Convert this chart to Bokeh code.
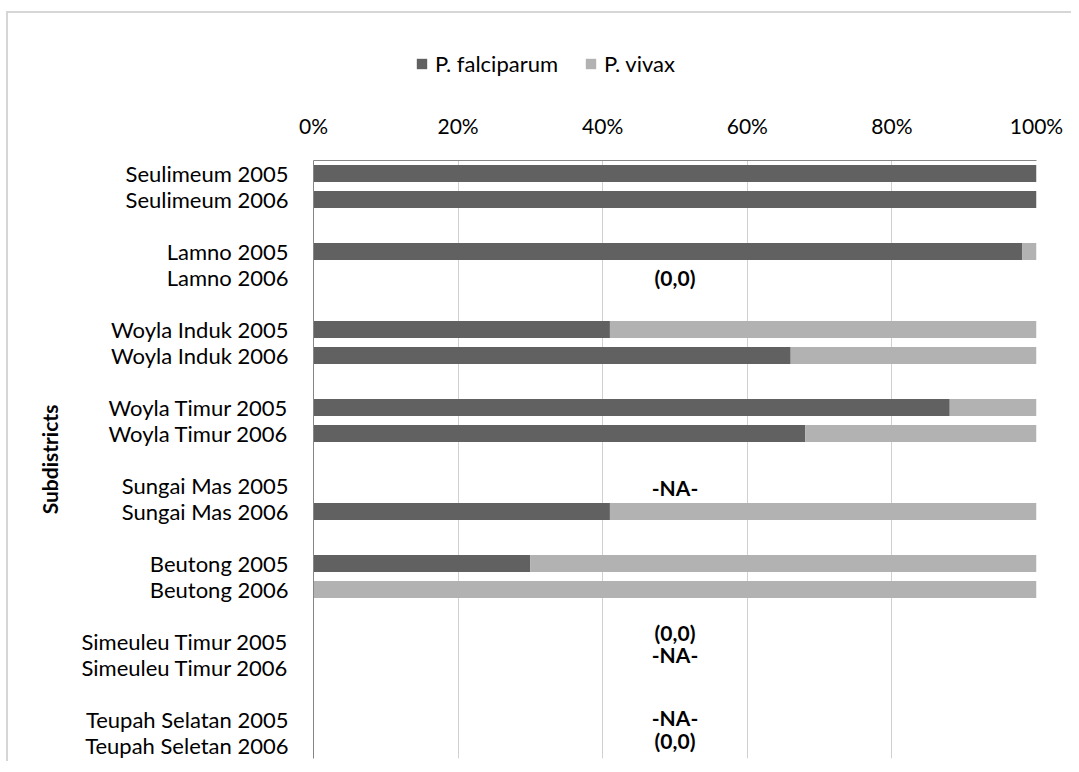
from bokeh.plotting import figure
from bokeh.layouts import column
from bokeh.models import ColumnDataSource, Range1d, FixedTicker, PrintfTickFormatter, Legend
from bokeh.core.properties import value
from bokeh.embed import file_html
from bokeh.resources import INLINE

# ---- data ----
categories = ["Seulimeum 2005", "Seulimeum 2006", "Lamno 2005", "Lamno 2006",
              "Woyla Induk 2005", "Woyla Induk 2006", "Woyla Timur 2005", "Woyla Timur 2006",
              "Sungai Mas 2005", "Sungai Mas 2006", "Beutong 2005", "Beutong 2006",
              "Simeuleu Timur 2005", "Simeuleu Timur 2006", "Teupah Selatan 2005", "Teupah Seletan 2006"]
falciparum = [100, 100, 98, 0, 41, 66, 88, 68, 0, 41, 30, 0, 0, 0, 0, 0]
vivax      = [0, 0, 2, 0, 59, 34, 12, 32, 0, 59, 70, 100, 0, 0, 0, 0]
series_names = ["P. falciparum", "P. vivax"]
x_ticks = [0, 20, 40, 60, 80, 100]

# notes for categories without data: (category index, text, vertical nudge in rows)
note_index  = [3, 8, 12, 13, 14, 15]
note_text   = ["(0,0)", "-NA-", "(0,0)", "-NA-", "-NA-", "(0,0)"]
note_nudge  = [0.0, 0.07, -0.36, -0.5, -0.07, -0.19]

DARK = "#616161"
LIGHT = "#b2b2b2"
FONT = "Lato"
W = 1063

# row positions: pairs of years, one empty row between subdistricts
rows = [i + i // 2 for i in range(len(categories))]
n_rows = rows[-1] + 1

src = ColumnDataSource(dict(y=rows, falc=falciparum, viv=vivax))

# ---- legend strip (separate small figure so the legend is not clipped) ----
lg = figure(width=W, height=96, output_backend="svg", toolbar_location=None,
            x_range=Range1d(0, 100), y_range=Range1d(1000, 1001),
            x_axis_location=None, y_axis_location=None,
            min_border_left=305, min_border_right=35,
            min_border_top=0, min_border_bottom=0)
lg.grid.visible = False
lg.outline_line_color = None
proxy = lg.hbar_stack(["falc", "viv"], y="y", height=0.65, source=src,
                      color=[DARK, LIGHT], line_color=None)
legend = Legend(items=[(series_names[0], [proxy[0]]), (series_names[1], [proxy[1]])],
                orientation="horizontal", location=(102, 32),
                label_text_font=FONT, label_text_font_size="22px",
                label_text_color="#000000", glyph_width=13, glyph_height=13,
                label_standoff=7, spacing=26, padding=0, margin=0,
                border_line_color=None, background_fill_alpha=0)
lg.add_layout(legend, "center")

# ---- main chart ----
p = figure(width=W, height=652, output_backend="svg", toolbar_location=None,
           x_range=Range1d(0, 100), y_range=Range1d(n_rows - 0.5, -0.5),
           x_axis_location="above", min_border_left=305, min_border_top=44,
           min_border_right=35, min_border_bottom=3)

p.hbar_stack(["falc", "viv"], y="y", height=0.65, source=src,
             color=[DARK, LIGHT], line_color=None)

note_y = [rows[i] + d for i, d in zip(note_index, note_nudge)]
p.text(x=[50] * len(note_text), y=note_y, text=note_text, text_align="center",
       text_baseline="middle", text_font=value(FONT), text_font_style="bold",
       text_font_size="21px", text_color="#000000")

xa = p.xaxis[0]
xa.ticker = FixedTicker(ticks=x_ticks)
xa.formatter = PrintfTickFormatter(format="%d%%")
xa.major_tick_line_color = None
xa.minor_tick_line_color = None
xa.axis_line_color = "#868686"
xa.major_label_text_font = FONT
xa.major_label_text_font_size = "21px"
xa.major_label_text_color = "#000000"
xa.major_label_standoff = 17

ya = p.yaxis[0]
ya.ticker = FixedTicker(ticks=rows)
ya.major_label_overrides = {r: c for r, c in zip(rows, categories)}
ya.major_tick_line_color = None
ya.minor_tick_line_color = None
ya.axis_line_color = "#868686"
ya.major_label_text_font = FONT
ya.major_label_text_font_size = "22px"
ya.major_label_text_color = "#000000"
ya.major_label_standoff = 19
ya.axis_label = "Subdistricts"
ya.axis_label_text_font = FONT
ya.axis_label_text_font_style = "bold"
ya.axis_label_text_font_size = "21px"
ya.axis_label_text_color = "#000000"
ya.axis_label_standoff = 16

p.xgrid.ticker = FixedTicker(ticks=x_ticks)
p.xgrid.grid_line_color = "#d0d0d0"
p.ygrid.visible = False
p.outline_line_color = None

page = column(lg, p, spacing=0)
page.styles = {"margin": "11px 0px 0px 6px",
               "border-top": "2px solid #d6d6d6", "border-left": "2px solid #d6d6d6"}

open("out.html", "w").write(file_html(page, INLINE))
